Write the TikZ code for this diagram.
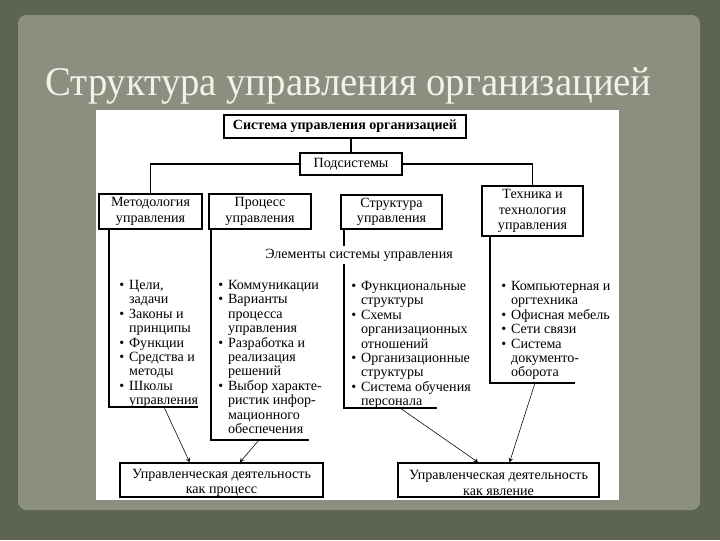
\documentclass[tikz,border=0pt]{standalone}
\usepackage{graphicx}
\usepackage{fontspec}
\setmainfont{Liberation Serif}
\usetikzlibrary{arrows}
\definecolor{frame}{RGB}{94,100,82}
\definecolor{slate}{RGB}{139,143,128}
\definecolor{chalk}{RGB}{242,242,232}
\newcommand{\bl}{\makebox[7pt][l]{\textbullet}}
\newcommand{\nx}{\hspace*{7pt}}

\begin{document}
\begin{tikzpicture}[x=0.025cm,y=-0.025cm,>=stealth,
    box/.style={draw,line width=0.9pt,align=center,inner sep=0pt,font=\fontsize{10}{11}\selectfont},
    lst/.style={anchor=north west,align=left,inner sep=0pt,font=\fontsize{10}{10.24}\selectfont},
    rail/.style={line width=0.9pt}]

    \useasboundingbox (0,0) rectangle (720,540);
    \fill[frame] (0,0) rectangle (720,540);
    \fill[slate,rounded corners=6] (18,15) rectangle (700,510);
    \fill[white] (96,110) rectangle (619,500);

    \node[chalk,anchor=base west,inner sep=0pt,font=\fontsize{29}{30}\selectfont] at (45,95) (title) {\scalebox{0.95}[1]{Структура управления организацией}};

    \node[box,minimum width=6.05cm,minimum height=0.575cm,font=\fontsize{10}{11}\selectfont\bfseries] at (345,126.5) (sys) {Система управления организацией};
    \node[box,minimum width=2.55cm,minimum height=0.55cm] at (351,164) (sub) {Подсистемы};
    \node[box,minimum width=2.575cm,minimum height=0.875cm] at (150.5,211.5) (meth) {Методология\\управления};
    \node[box,minimum width=2.55cm,minimum height=0.875cm] at (260,211.5) (proc) {Процесс\\управления};
    \node[box,minimum width=2.525cm,minimum height=0.85cm] at (391.5,212) (struct) {Структура\\управления};
    \node[box,minimum width=2.525cm,minimum height=1.25cm] at (532.5,211) (tech) {Техника и\\технология\\управления};
    \draw[rail] (sys.south -| sub.north) -- (sub.north);
    \draw[rail] (sub.west) -| (meth.north);
    \draw[rail] (sub.east) -| (tech.north);

    \draw[rail] (109,229) |- (198,407);
    \draw[rail] (211,229) |- (309,440);
    \draw[rail] (344,229) |- (437,408);
    \draw[rail] (490,236) |- (575,383);
    \node[fill=white,inner sep=2pt,font=\fontsize{10}{11}\selectfont] at (359,255) (elem) {Элементы системы управления};

    \node[lst] at (119,280) (methlist) {\bl Цели,\\ \nx задачи\\ \bl Законы и\\ \nx принципы\\ \bl Функции\\ \bl Средства и\\ \nx методы\\ \bl Школы\\ \nx управления};
    \node[lst] at (218,280) (proclist) {\bl Коммуникации\\ \bl Варианты\\ \nx процесса\\ \nx управления\\ \bl Разработка и\\ \nx реализация\\ \nx решений\\ \bl Выбор характе-\\ \nx ристик инфор-\\ \nx мационного\\ \nx обеспечения};
    \node[lst] at (351,281) (structlist) {\bl Функциональные\\ \nx структуры\\ \bl Схемы\\ \nx организационных\\ \nx отношений\\ \bl Организационные\\ \nx структуры\\ \bl Система обучения\\ \nx персонала};
    \node[lst] at (501,281) (techlist) {\bl Компьютерная и\\ \nx оргтехника\\ \bl Офисная мебель\\ \bl Сети связи\\ \bl Система\\ \nx документо-\\ \nx оборота};

    \node[box,minimum width=5.075cm,minimum height=0.85cm] at (221.5,480) (lproc) {\rule{0pt}{11pt}Управленческая деятельность\\как процесс};
    \node[box,minimum width=5.025cm,minimum height=0.85cm] at (498.5,480) (rphen) {\rule{0pt}{11pt}Управленческая деятельность\\как явление};

    \coordinate (m1) at (164,407);
    \coordinate (p1) at (259,440);
    \coordinate (s1) at (400,408);
    \coordinate (t1) at (535,383);
    \draw[->] (m1) -- (lproc.151);
    \draw[->] (p1) -- (lproc.44);
    \draw[->] (s1) -- (rphen.139);
    \draw[->] (t1) -- (rphen.58);
        \end{tikzpicture}
\end{document}
